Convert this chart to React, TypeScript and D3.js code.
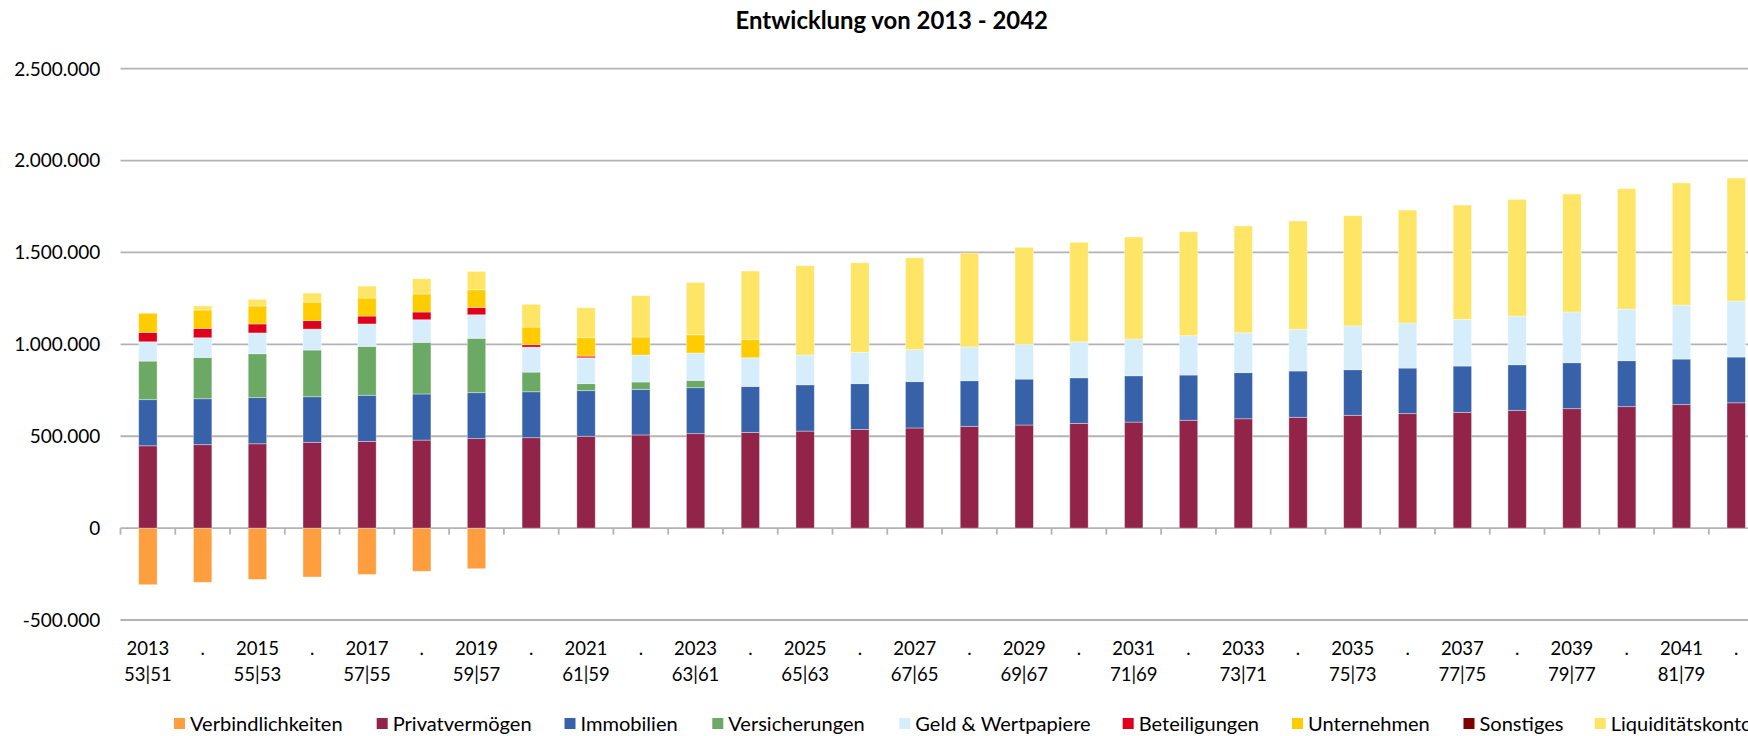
import React, { useMemo } from "react";
import * as d3 from "d3";

// ---- Data (values in thousand EUR) ----
const years = d3.range(2013, 2043).map(String);
const labelTop = years.map((y, i) => (i % 2 === 0 ? y : "."));
const labelBottom = [
  "53|51", "", "55|53", "", "57|55", "", "59|57", "", "61|59", "", "63|61", "", "65|63", "", "67|65", "",
  "69|67", "", "71|69", "", "73|71", "", "75|73", "", "77|75", "", "79|77", "", "81|79", "",
];

const seriesNames = [
  "Verbindlichkeiten", "Privatvermögen", "Immobilien", "Versicherungen", "Geld & Wertpapiere",
  "Beteiligungen", "Unternehmen", "Sonstiges", "Liquiditätskonto",
];
const seriesColors = [
  "#FF9E3F", "#922449", "#3762AA", "#6BA964", "#D6EEFC", "#E0001B", "#FFCC00", "#800000", "#FFE566",
];

const verbindlichkeiten = [-308, -295, -279, -266, -252, -235, -221, 0, 0, 0, 0, 0, 0, 0, 0, 0, 0, 0, 0, 0, 0, 0, 0, 0, 0, 0, 0, 0, 0, 0];
const privatvermoegen = [448, 454, 459, 467, 472, 479, 487, 492, 500, 507, 514, 521, 528, 537, 545, 554, 561, 570, 577, 587, 595, 603, 614, 623, 630, 641, 650, 661, 672, 682];
const immobilien = [251, 250, 251, 248, 251, 251, 250, 250, 248, 248, 250, 250, 252, 249, 252, 248, 250, 248, 252, 246, 251, 252, 248, 248, 252, 248, 250, 250, 248, 249];
const versicherungen = [210, 225, 239, 254, 266, 281, 296, 107, 38, 40, 40, 0, 0, 0, 0, 0, 0, 0, 0, 0, 0, 0, 0, 0, 0, 0, 0, 0, 0, 0];
const geldWertpapiere = [105, 107, 113, 114, 122, 123, 128, 136, 141, 147, 149, 156, 162, 171, 174, 184, 189, 196, 200, 214, 217, 227, 238, 245, 254, 265, 276, 281, 294, 305];
const beteiligungen = [51, 51, 49, 46, 43, 42, 40, 13, 9, 0, 0, 0, 0, 0, 0, 0, 0, 0, 0, 0, 0, 0, 0, 0, 0, 0, 0, 0, 0, 0];
const unternehmen = [104, 100, 98, 101, 98, 98, 96, 96, 100, 98, 99, 100, 0, 0, 0, 0, 0, 0, 0, 0, 0, 0, 0, 0, 0, 0, 0, 0, 0, 0];
const sonstiges = [0, 0, 0, 0, 0, 0, 0, 0, 0, 0, 0, 0, 0, 0, 0, 0, 0, 0, 0, 0, 0, 0, 0, 0, 0, 0, 0, 0, 0, 0];
const liquiditaetskonto = [0, 22, 36, 49, 65, 83, 100, 124, 163, 225, 285, 372, 486, 487, 500, 511, 528, 541, 555, 566, 581, 589, 600, 615, 622, 635, 642, 655, 664, 669];

const seriesValues = [
  verbindlichkeiten, privatvermoegen, immobilien, versicherungen, geldWertpapiere,
  beteiligungen, unternehmen, sonstiges, liquiditaetskonto,
];
const yTicks = [-500000, 0, 500000, 1000000, 1500000, 2000000, 2500000];
const title = "Entwicklung von 2013 - 2042";

// ---- Layout ----
const W = 1748;
const H = 736;
const FONT = "Lato, 'Open Sans', sans-serif";
const plotLeft = 120.5;
const step = 54.77;
const plotRight = plotLeft + step * years.length;
const plotTop = 68.7;
const plotBottom = 620;
const legendTextX = [190, 392.7, 580.5, 728.3, 915.3, 1138.7, 1308, 1479.5, 1610.7];

function fitSize(text: string, weight: string, target: number) {
  const ctx = document.createElement("canvas").getContext("2d");
  if (!ctx) return 20;
  ctx.font = `${weight} 100px Lato`;
  return (100 * target) / ctx.measureText(text).width;
}

const de = d3.formatLocale({ decimal: ",", thousands: ".", grouping: [3], currency: ["", "€"], minus: "-" } as any);
const fmt = de.format(",");

export default function App() {
  const sizes = useMemo(
    () => ({
      title: fitSize(title, "bold", 313),
      y: fitSize("2.500.000", "normal", 86),
      x: fitSize("2.500.000", "normal", 84),
      legend: fitSize("Verbindlichkeiten", "normal", 152.7),
    }),
    []
  );

  const x = d3
    .scaleBand<string>()
    .domain(years)
    .range([plotLeft, plotRight])
    .paddingInner(1 - 18.4 / step)
    .paddingOuter((1 - 18.4 / step) / 2);
  const y = d3.scaleLinear().domain([-500000, 2500000]).range([plotBottom, plotTop]);

  const rows = years.map((yr, i) => {
    const r: any = { year: yr };
    seriesNames.forEach((n, k) => (r[n] = seriesValues[k][i] * 1000));
    return r;
  });
  const stacked = d3.stack<any>().keys(seriesNames).offset(d3.stackOffsetDiverging)(rows);

  const xCenter = (yr: string) => (x(yr) as number) + x.bandwidth() / 2;

  return (
    <div style={{ position: "absolute", left: 0, top: 0 }}>
      <svg width={W} height={H} style={{ display: "block", background: "#fff" }} fontFamily={FONT}>
        <rect width={W} height={H} fill="#fff" />
        <text x={891.7} y={29} textAnchor="middle" fontWeight="bold" fontSize={sizes.title} fill="#000">
          {title}
        </text>
        {yTicks.map((t) => (
          <g key={t}>
            <line x1={plotLeft} x2={plotRight} y1={y(t)} y2={y(t)} stroke="#B3B3B3" strokeWidth={1.8} />
            <text x={100.3} y={y(t)} dy="0.36em" textAnchor="end" fontSize={sizes.y} fill="#000">
              {fmt(t)}
            </text>
          </g>
        ))}
        {d3.range(years.length + 1).map((i) => (
          <line
            key={i}
            x1={plotLeft + i * x.step()}
            x2={plotLeft + i * x.step()}
            y1={y(0)}
            y2={y(0) + 6.5}
            stroke="#B3B3B3"
            strokeWidth={1.8}
          />
        ))}
        {stacked.map((s, k) => (
          <g key={s.key} fill={seriesColors[k]}>
            {s.map((d, i) => {
              const h = Math.abs(y(d[0]) - y(d[1]));
              if (h < 0.01) return null;
              return (
                <rect
                  key={i}
                  x={x(years[i])}
                  y={Math.min(y(d[0]), y(d[1]))}
                  width={x.bandwidth()}
                  height={h}
                  stroke="#ffffff"
                  strokeOpacity={0.45}
                  strokeWidth={0.8}
                />
              );
            })}
          </g>
        ))}
        {years.map((yr, i) => (
          <g key={yr} fontSize={sizes.x} textAnchor="middle" fill="#000">
            <text x={xCenter(yr)} y={655}>{labelTop[i]}</text>
            {labelBottom[i] && <text x={xCenter(yr)} y={681}>{labelBottom[i]}</text>}
          </g>
        ))}
        {seriesNames.map((n, k) => (
          <g key={n}>
            <rect x={legendTextX[k] - 16} y={718} width={11} height={11} fill={seriesColors[k]} />
            <text x={legendTextX[k]} y={730.5} fontSize={sizes.legend} fill="#000">
              {n}
            </text>
          </g>
        ))}
      </svg>
    </div>
  );
}
